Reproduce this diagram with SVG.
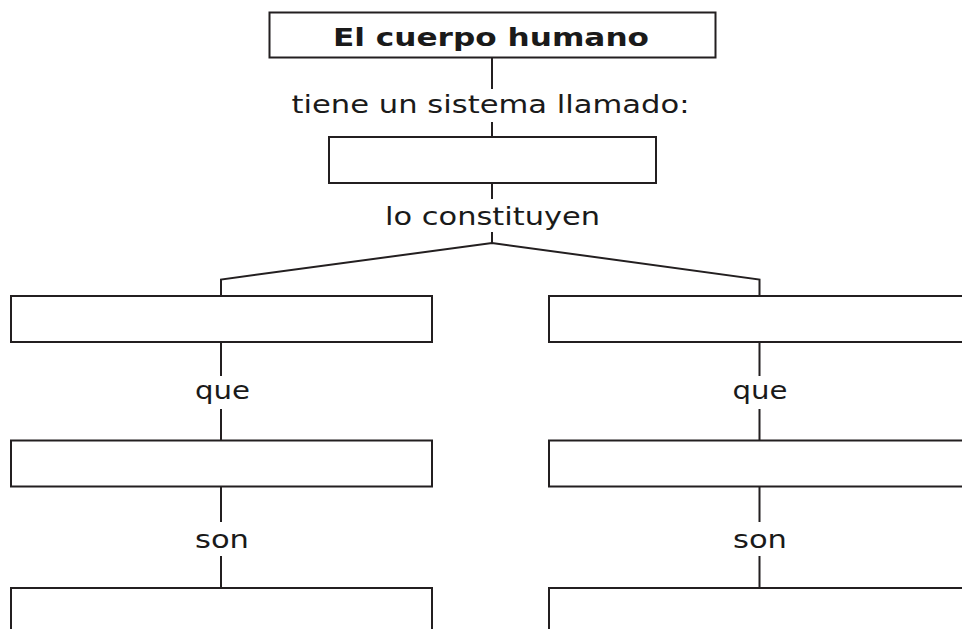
<svg xmlns="http://www.w3.org/2000/svg" width="962" height="629" viewBox="0 0 962 629">
<style>
.box{fill:#fff;stroke:#231f20;stroke-width:2}
.ln{fill:none;stroke:#231f20;stroke-width:2}
.t{font-family:"DejaVu Sans","Verdana",sans-serif;font-size:25px;fill:#1a1a1a;text-anchor:middle}
.b{font-weight:bold;font-size:24.5px}
</style>
<rect width="962" height="629" fill="#fff"/>
<g id="connectors">
<path class="ln" d="M492 58V89M492 122V137M492 183V199M492 232V243"/>
<path class="ln" d="M221 296V279.5L492 243L759.5 279.5V296"/>
<path class="ln" d="M221 342V376M221 409V440M221 487V522M221 556V588"/>
<path class="ln" d="M759.5 342V376M759.5 409V440M759.5 487V522M759.5 556V588"/>
</g>
<g id="n-cuerpo"><rect class="box" x="269.5" y="12.5" width="446" height="45"/><text class="t b" x="491" y="45.5" textLength="316" lengthAdjust="spacingAndGlyphs">El cuerpo humano</text></g>
<g id="l-tiene"><text class="t" x="490.5" y="113" textLength="398" lengthAdjust="spacingAndGlyphs">tiene un sistema llamado:</text></g>
<g id="n-sistema"><rect class="box" x="329" y="137" width="327" height="46"/></g>
<g id="l-constituyen"><text class="t" x="492.5" y="224.5" textLength="215" lengthAdjust="spacingAndGlyphs">lo constituyen</text></g>
<g id="n-l1"><rect class="box" x="11" y="296" width="421" height="46"/></g>
<g id="n-r1"><rect class="box" x="549" y="296" width="421" height="46"/></g>
<g id="l-que-l"><text class="t" x="222.5" y="399" textLength="55" lengthAdjust="spacingAndGlyphs">que</text></g>
<g id="l-que-r"><text class="t" x="760" y="399" textLength="55" lengthAdjust="spacingAndGlyphs">que</text></g>
<g id="n-l2"><rect class="box" x="11" y="440.5" width="421" height="46"/></g>
<g id="n-r2"><rect class="box" x="549" y="440.5" width="421" height="46"/></g>
<g id="l-son-l"><text class="t" x="222" y="548" textLength="54" lengthAdjust="spacingAndGlyphs">son</text></g>
<g id="l-son-r"><text class="t" x="760" y="548" textLength="54" lengthAdjust="spacingAndGlyphs">son</text></g>
<g id="n-l3"><rect class="box" x="11" y="588" width="421" height="60"/></g>
<g id="n-r3"><rect class="box" x="549" y="588" width="421" height="60"/></g>
</svg>
